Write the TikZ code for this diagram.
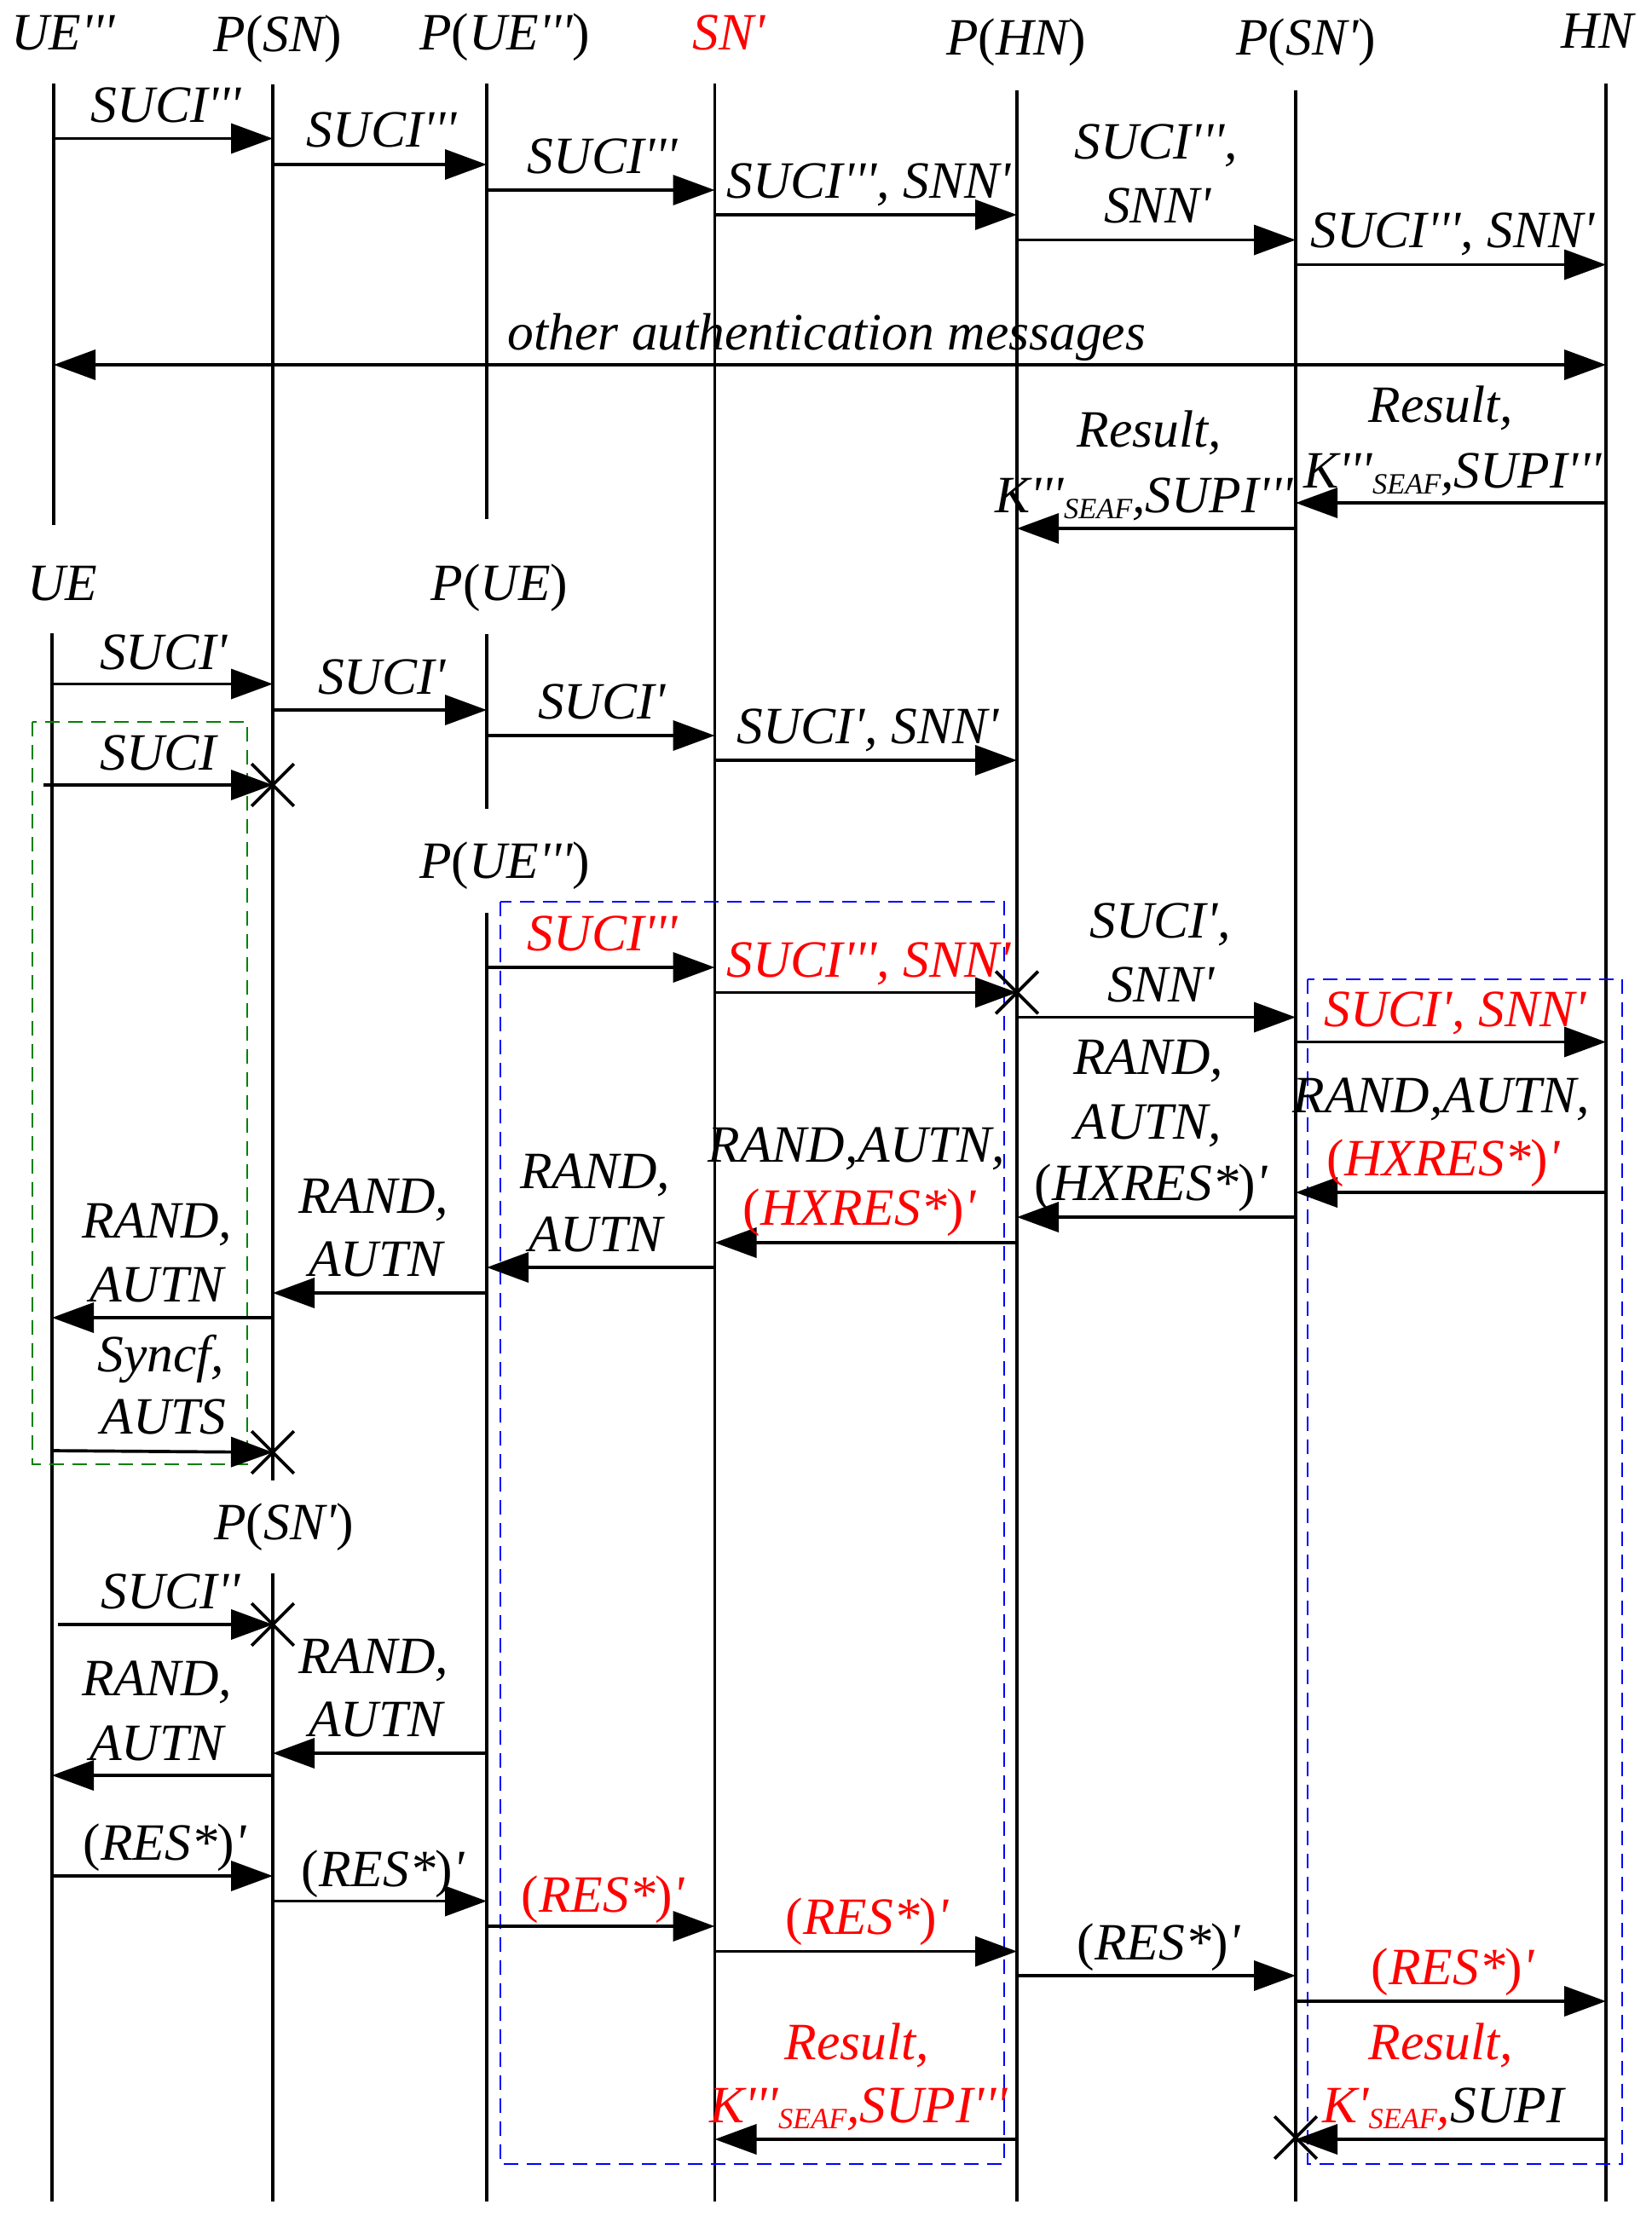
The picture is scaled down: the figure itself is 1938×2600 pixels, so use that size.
\documentclass[tikz,border=0pt]{standalone}
\usepackage{fontspec}
\setmainfont{Liberation Serif}
\usetikzlibrary{arrows.meta,shapes.misc}
\newcommand{\tq}{\textquotesingle}
\newcommand{\seaf}{\raisebox{-0.12em}{\fontsize{9.8}{10}\selectfont SEAF}}
\newcommand{\po}{{\upshape(}}
\newcommand{\pc}{{\upshape)}}

\begin{document}
\begin{tikzpicture}%
  [x=0.1mm,y=-0.1mm,font=\fontsize{17.5}{21}\selectfont\itshape]
  \tikzstyle{life}=[line width=1.05pt]
  \tikzstyle{msg}=[line width=1.05pt,-{Triangle[length=4.9mm,width=3.5mm]}]
  \tikzstyle{both msg}=[line width=1.05pt,{Triangle[length=4.9mm,width=3.5mm]}-{Triangle[length=4.9mm,width=3.5mm]}]
  \tikzstyle{lbl}=[anchor=base,inner sep=0]
  \tikzstyle{cut}=[cross out,draw,line width=1.05pt,minimum size=4.6mm,inner sep=0]
  \tikzstyle{frame}=[line width=0.4pt,dash pattern=on 1.7mm off 1mm]
  \useasboundingbox (0,0) rectangle (1938,2600);

  % entities
  \node[lbl] (hUE3) at (74,58) {UE\tq\tq\tq};
  \node[lbl] (hPSN) at (326,60) {P\po SN\pc};
  \node[lbl] (hPUE3) at (592,58) {P\po UE\tq\tq\tq\pc};
  \node[lbl,red] (hSNp) at (855,58) {SN\tq};
  \node[lbl] (hPHN) at (1192,64) {P\po HN\pc};
  \node[lbl] (hPSNp) at (1532,64) {P\po SN\tq\pc};
  \node[lbl] (hHN) at (1874,56) {HN};
  \node[lbl] (hUE) at (73,704) {UE};
  \node[lbl] (hPUE) at (586,704) {P\po UE\pc};
  \node[lbl] (hPUE3b) at (592,1030) {P\po UE\tq\tq\tq\pc};
  \node[lbl] (hPSNpb) at (333,1806) {P\po SN\tq\pc};

  % life lines
  \coordinate (ue3) at (63,98);
  \coordinate (psn) at (320,99);
  \coordinate (pue3) at (571,98);
  \coordinate (snp) at (838.5,98);
  \coordinate (phn) at (1193,106);
  \coordinate (psnp) at (1520,106);
  \coordinate (hn) at (1884,98);
  \coordinate (ue) at (61,743);
  \coordinate (pue) at (571,744);
  \coordinate (pue3b) at (571,1071);
  \coordinate (psnpb) at (320,1846);
  \draw[life] (ue3) -- (ue3 |- 0,616);
  \draw[life] (psn) -- (psn |- 0,1737);
  \draw[life] (pue3) -- (pue3 |- 0,609);
  \draw[life] (snp) -- (snp |- 0,2583);
  \draw[life] (phn) -- (phn |- 0,2583);
  \draw[life] (psnp) -- (psnp |- 0,2583);
  \draw[life] (hn) -- (hn |- 0,2583);
  \draw[life] (ue) -- (ue |- 0,2583);
  \draw[life] (pue) -- (pue |- 0,949);
  \draw[life] (pue3b) -- (pue3b |- 0,2583);
  \draw[life] (psnpb) -- (psnpb |- 0,2583);

  % frames
  \draw[frame,green!50!black] (38,847) rectangle (290,1718);
  \draw[frame,blue] (587,1058) rectangle (1178,2539);
  \draw[frame,blue] (1534,1149) rectangle (1903,2539);

  % first run
  \draw[msg] (ue3 |- 0,162.5) -- (psn |- 0,162.5);
  \node[lbl] (m1) at (195,143) {SUCI\tq\tq\tq};
  \draw[msg] (psn |- 0,193) -- (pue3 |- 0,193);
  \node[lbl] (m2) at (448,172) {SUCI\tq\tq\tq};
  \draw[msg] (pue3 |- 0,223) -- (snp |- 0,223);
  \node[lbl] (m3) at (707,203) {SUCI\tq\tq\tq};
  \draw[msg] (snp |- 0,252) -- (phn |- 0,252);
  \node[lbl] (m4) at (1019,232) {SUCI\tq\tq\tq, SNN\tq};
  \draw[msg] (phn |- 0,281.5) -- (psnp |- 0,281.5);
  \node[lbl] (m5a) at (1356,186.5) {SUCI\tq\tq\tq,};
  \node[lbl] (m5b) at (1358,261) {SNN\tq};
  \draw[msg] (psnp |- 0,310.5) -- (hn |- 0,310.5);
  \node[lbl] (m6) at (1704,290) {SUCI\tq\tq\tq, SNN\tq};
  \draw[both msg] (ue3 |- 0,428) -- (hn |- 0,428);
  \node[lbl] (m7) at (970,410.5) {other authentication messages};
  \draw[msg] (hn |- 0,590) -- (psnp |- 0,590);
  \node[lbl] (m8a) at (1690,495.5) {Result,};
  \node[lbl] (m8b) at (1704,572) {K\tq\tq\tq\seaf,SUPI\tq\tq\tq};
  \draw[msg] (psnp |- 0,620) -- (phn |- 0,620);
  \node[lbl] (m9a) at (1348,524.5) {Result,};
  \node[lbl] (m9b) at (1342,601) {K\tq\tq\tq\seaf,SUPI\tq\tq\tq};

  % second run
  \draw[msg] (ue |- 0,802.5) -- (psn |- 0,802.5);
  \node[lbl] (m10) at (192,785) {SUCI\tq};
  \draw[msg] (psn |- 0,833) -- (pue |- 0,833);
  \node[lbl] (m11) at (448,814) {SUCI\tq};
  \draw[msg] (pue |- 0,863) -- (snp |- 0,863);
  \node[lbl] (m12) at (706,843) {SUCI\tq};
  \draw[msg] (snp |- 0,892) -- (phn |- 0,892);
  \node[lbl] (m13) at (1018,872) {SUCI\tq, SNN\tq};
  \coordinate (s14) at (51,921);
  \node[cut] (x14) at (psn |- 0,921) {};
  \draw[msg] (s14) -- (x14.center);
  \node[lbl] (m14) at (186,903) {SUCI};
  \draw[msg] (pue3b |- 0,1135) -- (snp |- 0,1135);
  \node[lbl,red] (m15) at (707,1115) {SUCI\tq\tq\tq};
  \node[cut] (x16) at (phn |- 0,1164.5) {};
  \draw[msg] (snp |- 0,1164.5) -- (x16.center);
  \node[lbl,red] (m16) at (1019,1146) {SUCI\tq\tq\tq, SNN\tq};
  \draw[msg] (phn |- 0,1193.5) -- (psnp |- 0,1193.5);
  \node[lbl] (m17a) at (1361,1100) {SUCI\tq,};
  \node[lbl] (m17b) at (1362,1175) {SNN\tq};
  \draw[msg] (psnp |- 0,1222.5) -- (hn |- 0,1222.5);
  \node[lbl,red] (m18) at (1707,1204) {SUCI\tq, SNN\tq};
  \draw[msg] (hn |- 0,1399) -- (psnp |- 0,1399);
  \node[lbl] (m20a) at (1691,1305) {RAND,AUTN,};
  \node[lbl,red] (m20b) at (1693,1379.5) {\po HXRES*\pc\tq};
  \draw[msg] (psnp |- 0,1428) -- (phn |- 0,1428);
  \node[lbl] (m19a) at (1347,1260) {RAND,};
  \node[lbl] (m19b) at (1347,1336) {AUTN,};
  \node[lbl] (m19c) at (1350,1408.5) {\po HXRES*\pc\tq};
  \draw[msg] (phn |- 0,1458) -- (snp |- 0,1458);
  \node[lbl] (m21a) at (1005,1363) {RAND,AUTN,};
  \node[lbl,red] (m21b) at (1008,1437.5) {\po HXRES*\pc\tq};
  \draw[msg] (snp |- 0,1487) -- (pue3b |- 0,1487);
  \node[lbl] (m22a) at (698,1394) {RAND,};
  \node[lbl] (m22b) at (699,1468.6) {AUTN};
  \draw[msg] (pue3b |- 0,1517) -- (psn |- 0,1517);
  \node[lbl] (m23a) at (438,1423) {RAND,};
  \node[lbl] (m23b) at (441,1497.6) {AUTN};
  \draw[msg] (psn |- 0,1546) -- (ue |- 0,1546);
  \node[lbl] (m24a) at (184,1452) {RAND,};
  \node[lbl] (m24b) at (184,1527) {AUTN};
  \node[cut] (x25) at (psn |- 0,1704) {};
  \draw[msg] (ue |- 0,1702) -- (x25.center);
  \node[lbl] (m25a) at (189,1609.6) {Syncf,};
  \node[lbl] (m25b) at (192,1682) {AUTS};

  % third run
  \coordinate (s26) at (68,1906);
  \node[cut] (x26) at (psnpb |- 0,1906) {};
  \draw[msg] (s26) -- (x26.center);
  \node[lbl] (m26) at (200,1887) {SUCI\tq\tq};
  \draw[msg] (pue3b |- 0,2057) -- (psnpb |- 0,2057);
  \node[lbl] (m27a) at (438,1963) {RAND,};
  \node[lbl] (m27b) at (441,2037) {AUTN};
  \draw[msg] (psnpb |- 0,2083) -- (ue |- 0,2083);
  \node[lbl] (m28a) at (184,1989) {RAND,};
  \node[lbl] (m28b) at (184,2065) {AUTN};
  \draw[msg] (ue |- 0,2201) -- (psnpb |- 0,2201);
  \node[lbl] (m29) at (193,2182) {\po RES*\pc\tq};
  \draw[msg] (psnpb |- 0,2230.5) -- (pue3b |- 0,2230.5);
  \node[lbl] (m30) at (449,2213) {\po RES*\pc\tq};
  \draw[msg] (pue3b |- 0,2260) -- (snp |- 0,2260);
  \node[lbl,red] (m31) at (707,2243) {\po RES*\pc\tq};
  \draw[msg] (snp |- 0,2289.5) -- (phn |- 0,2289.5);
  \node[lbl,red] (m32) at (1017,2269) {\po RES*\pc\tq};
  \draw[msg] (phn |- 0,2318) -- (psnp |- 0,2318);
  \node[lbl] (m33) at (1359,2299) {\po RES*\pc\tq};
  \draw[msg] (psnp |- 0,2348) -- (hn |- 0,2348);
  \node[lbl,red] (m34) at (1704,2328) {\po RES*\pc\tq};
  \draw[msg] (phn |- 0,2510) -- (snp |- 0,2510);
  \node[lbl,red] (m35a) at (1005,2416.5) {Result,};
  \node[lbl,red] (m35b) at (1007,2490) {K\tq\tq\tq\seaf,SUPI\tq\tq\tq};
  \node[cut] (x36) at (psnp |- 0,2508) {};
  \draw[msg] (hn |- 0,2510) -- (psnp |- 0,2510);
  \node[lbl,red] (m36a) at (1690,2416.5) {Result,};
  \node[lbl] (m36b) at (1693,2490) {{\color{red}K\tq\seaf,}SUPI};
\end{tikzpicture}
\end{document}
